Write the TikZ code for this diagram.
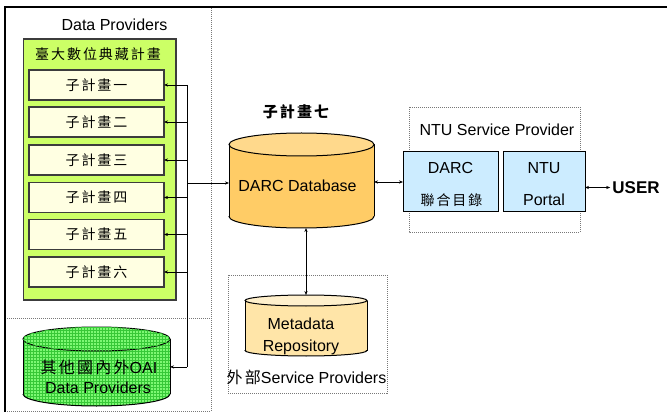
\documentclass[tikz,border=0pt]{standalone}
\usepackage{fontspec}
\setmainfont{Liberation Sans}
\newfontfamily\cjk[LetterSpace=14]{Noto Sans CJK TC}
\usetikzlibrary{arrows.meta,patterns}
\definecolor{limeg}{RGB}{204,255,102}
\definecolor{cream}{RGB}{255,255,226}
\definecolor{boxline}{RGB}{60,60,60}
\definecolor{oaibase}{RGB}{125,248,115}
\definecolor{oaigrid}{RGB}{55,200,55}
\definecolor{dbbody}{RGB}{255,204,102}
\definecolor{dbtop}{RGB}{255,217,140}
\definecolor{mdbody}{RGB}{255,229,168}
\definecolor{mdtop}{RGB}{255,240,204}
\definecolor{lblue}{RGB}{204,236,255}
\definecolor{dotgray}{RGB}{120,120,120}
\newcommand\cylshape[9]{%
  \path[fill=#7,#9] ({#2-#5},#3) rectangle ({#2+#5},#4);
  \path[fill=#7,#9] (#2,#4) ellipse [x radius=#5, y radius=#6];
  \begin{scope}
    \clip ({#2-#5-2},#4) rectangle ({#2+#5+2},{#4+#6+2});
    \draw[cylline] (#2,#4) ellipse [x radius=#5, y radius=#6];
  \end{scope}
  \draw[cylline] ({#2-#5},#3) -- ({#2-#5},#4) ({#2+#5},#3) -- ({#2+#5},#4);
  \path[cylline,draw=black,fill=#8,#9] (#2,#3) ellipse [x radius=#5, y radius=#6];
  \node[inner sep=0pt,outer sep=0pt,minimum width={2*#5},minimum height={#4-#3+2*#6}] (#1) at (#2,{(#3+#4)/2}) {};
}
\begin{document}
\begin{tikzpicture}[x=1pt,y=-1pt,
  lbl/.style={inner sep=0pt, font=\fontsize{16}{19}\selectfont},
  cjklbl/.style={inner sep=0pt, font=\cjk\fontsize{14}{17}\selectfont},
  dotbox/.style={draw=dotgray, line width=0.8pt, dash pattern=on 1pt off 1pt},
  cylline/.style={line width=1pt},
  subbox/.style={draw=boxline, fill=cream, line width=1.5pt, minimum width=135pt, minimum height=30pt, inner sep=0pt, outer sep=0pt, font=\cjk\fontsize{14}{17}\selectfont},
  bluebox/.style={draw=black, fill=lblue, line width=1pt, minimum width=#1, minimum height=60pt, inner sep=0pt, outer sep=0pt},
  arr/.style={draw, line width=0.8pt, -{Stealth[length=4pt,width=3.2pt]}},
  arrb/.style={draw, line width=0.8pt, {Stealth[length=4pt,width=3.2pt]}-{Stealth[length=4pt,width=3.2pt]}},
  bus/.style={draw, line width=0.8pt}]
\useasboundingbox (0,0) rectangle (667,414);
% frames
\draw[dotbox] (5,7) rectangle (211,411);
\draw[dotbox] (5,318) -- (211,318);
\draw[line width=1.8pt] (5,412) -- (5,7) -- (667,7);
\draw[dotbox] (409,107) rectangle (580,232);
\draw[dotbox] (228,275) rectangle (387,393);
% titles
\node[lbl, anchor=base] (tdp) at (114.5,31) {Data Providers};
% green box
\node[draw=boxline, fill=limeg, line width=1.5pt, minimum width=152.5pt, minimum height=261pt, inner sep=0pt] (ntu) at (99.75,169.5) {};
\node[cjklbl] (tntu) at (98,54.5) {臺大數位典藏計畫};
\node[subbox] (s1) at (96.5,85) {子計畫一};
\node[subbox] (s2) at (96.5,122) {子計畫二};
\node[subbox] (s3) at (96.5,160) {子計畫三};
\node[subbox] (s4) at (96.5,197.5) {子計畫四};
\node[subbox] (s5) at (96.5,234.5) {子計畫五};
\node[subbox] (s6) at (96.5,272) {子計畫六};
% OAI cylinder
\cylshape{oai}{96.5}{339}{394}{73.5}{12}{oaibase}{oaibase}{postaction={pattern=grid, pattern color=oaigrid}}
\node[lbl, anchor=base] (oaitxt) at (99,373) {{\cjk 其他國內外}OAI};
\node[lbl, anchor=base] (oaitxt2) at (98,393) {Data Providers};
% DARC database
\node[cjklbl, font=\cjk\bfseries\fontsize{15}{18}\selectfont] (t7) at (296,112) {子計畫七};
\cylshape{db}{301.5}{144.5}{216.5}{72.5}{11.5}{dbbody}{dbtop}{}
\node[lbl, anchor=base] (dbtxt) at (297.5,192) {DARC Database};
% NTU service provider
\node[lbl, anchor=base] (tsp) at (497,136) {NTU Service Provider};
\node[bluebox=95pt] (darc) at (450.5,182) {};
\node[bluebox=82pt] (portal) at (544,182) {};
\node[lbl, anchor=base] (darct) at (450.5,174) {DARC};
\node[cjklbl] (darcc) at (451.5,200) {聯合目錄};
\node[lbl, anchor=base] (ntut) at (544,174) {NTU};
\node[lbl, anchor=base] (portalt) at (544,206) {Portal};
\node[inner sep=2pt, font=\bfseries\fontsize{17}{20}\selectfont] (user) at (636,187.5) {USER};
% metadata repository
\cylshape{md}{306}{300.5}{350.5}{61}{5.5}{mdbody}{mdtop}{}
\node[lbl, anchor=base] (mdt1) at (301,329) {Metadata};
\node[lbl, anchor=base] (mdt2) at (301,351) {Repository};
\node[lbl, anchor=base] (tesp) at (306.5,383) {{\cjk 外部}Service Providers};
% connectors
\coordinate (hub) at (187,183);
\draw[bus] (hub |- s1.east) -- (hub |- oaitxt);
\foreach \n in {s1,s2,s3,s4,s5,s6} \draw[arr] (hub |- \n.east) -- (\n.east);
\draw[arr] (hub |- oaitxt) -- (oai.east |- oaitxt);
\draw[arr] (hub) -- (hub -| db.west);
\draw[arrb] (db.east |- darc.west) -- (darc.west);
\draw[arrb] (portal.east |- user.west) -- (user.west);
\draw[arrb] (md.north |- db.south) -- (md.north);
\end{tikzpicture}
\end{document}
